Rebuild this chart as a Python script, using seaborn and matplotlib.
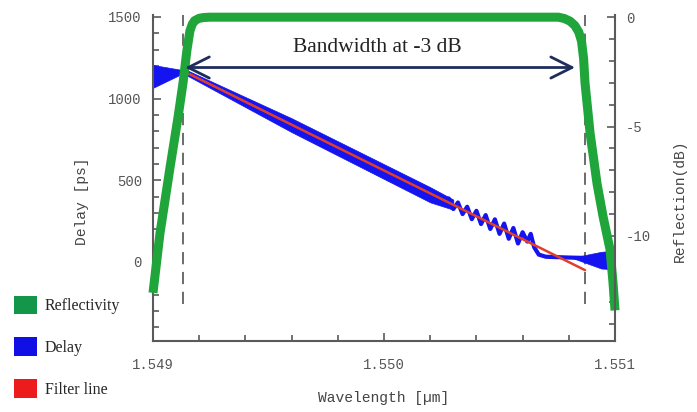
import matplotlib
matplotlib.use("Agg")
import matplotlib.pyplot as plt
import seaborn as sns
import numpy as np
import pandas as pd
from matplotlib.patches import Patch
from matplotlib.ticker import MultipleLocator

# ---------------- data ----------------
# Reflectivity (dB) vs wavelength (um)
refl_wl = [1.54900, 1.54903, 1.549074, 1.549108, 1.54913, 1.549147, 1.54916, 1.54917,
           1.54918, 1.54920, 1.54922, 1.549245, 1.5500, 1.550755, 1.55078,
           1.550805, 1.550826, 1.550843, 1.550855, 1.550864, 1.55087,
           1.550892, 1.550922, 1.550948, 1.550978, 1.550991, 1.55100]
refl_db = [-12.6, -9.9, -6.85, -4.6, -3.0, -1.5, -0.62, -0.32,
           -0.16, -0.05, -0.015, 0.0, 0.0, 0.0, -0.06,
           -0.18, -0.38, -0.68, -1.1, -1.9, -3.0,
           -5.3, -7.6, -9.1, -10.6, -12.1, -13.4]

# Delay (ps): noisy wedge at the left edge
wedge_wl = [1.54900, 1.54914]
wedge_hi = [1206, 1172]
wedge_lo = [1066, 1162]

# Delay (ps): dense ripple band following the linear slope
band_wl = [1.54913, 1.54960, 1.55020, 1.55030]
band_hi = [1185, 880, 458, 382]
band_lo = [1155, 795, 365, 320]

# Delay (ps): resolved ripples near the long-wavelength edge
rip_wl = [1.55028, 1.55030, 1.55032, 1.55034, 1.55036, 1.55038, 1.55040, 1.55042,
          1.55044, 1.55046, 1.55048, 1.55050, 1.55052, 1.55054, 1.55056, 1.55058,
          1.55060, 1.55062, 1.550635, 1.55065, 1.55067, 1.55070, 1.55080, 1.55086]
rip_ps = [389, 324, 364, 293, 338, 262, 313, 232,
          287, 202, 261, 172, 235, 142, 208, 113,
          182, 125, 172, 90, 45, 32, 27, 25]

# Delay (ps): noisy flare at the right edge
flare_wl = [1.55082, 1.55094, 1.55100]
flare_hi = [28, 62, 70]
flare_lo = [22, -40, -45]

# Linear filter line (ps)
fit_wl = [1.54913, 1.55087]
fit_ps = [1170, -50]

# -3 dB band edges (um)
edge_wl = [1.54913, 1.55087]

# ticks
x_ticks = [1.549, 1.550, 1.551]
x_ticklabels = ["1.549", "1.550", "1.551"]
y_ticks = [0, 500, 1000, 1500]
y_ticklabels = ["0", "500", "1000", "1500"]
r_ticks = [0, -5, -10]
r_ticklabels = ["0", "-5", "-10"]

legend_labels = ["Reflectivity", "Delay", "Filter line"]

# ---------------- styling ----------------
sns.set_style("white")
plt.rcParams["font.family"] = ["Liberation Mono", "DejaVu Sans Mono"]

GREEN = "#1fa53a"
BLUE = "#1414f0"
RED = "#e0402a"
GRAY = "#5a5a5a"
NAVY = "#1f2d5c"

fig = plt.figure(figsize=(6.97, 4.12), dpi=100)
ax = fig.add_axes([0.2195, 0.1723, 0.6629, 0.7913])
ax2 = ax.twinx()

# ---------------- delay (left axis) ----------------
ax.fill_between(wedge_wl, wedge_lo, wedge_hi, color=BLUE, lw=0.5, zorder=2)
ax.fill_between(band_wl, band_lo, band_hi, color=BLUE, lw=0.5, zorder=2)
ax.fill_between(flare_wl, flare_lo, flare_hi, color=BLUE, lw=0.5, zorder=2)
sns.lineplot(x=rip_wl, y=rip_ps, ax=ax, color=BLUE, linewidth=3.0,
             estimator=None, sort=False, legend=False, zorder=3)
sns.lineplot(x=fit_wl, y=fit_ps, ax=ax, color=RED, linewidth=1.8,
             estimator=None, sort=False, legend=False, zorder=4)

# dashed band edges
ax.vlines(edge_wl, -255, 1512, colors="#444444", linestyles=(0, (8, 5)),
          linewidth=1.1, zorder=1)

ax.set_xlim(1.549, 1.551)
ax.set_ylim(-484, 1512)

# ---------------- reflectivity (right axis) ----------------
sns.lineplot(x=refl_wl, y=refl_db, ax=ax2, color=GREEN, linewidth=6.5,
             estimator=None, sort=False, legend=False)
for ln in ax2.lines:
    ln.set_clip_on(False)
    ln.set_solid_capstyle("butt")
    ln.set_solid_joinstyle("round")
ax2.set_ylim(-14.8, 0.1)

# annotation arrow + text
ax2.annotate("", xy=(1.549139, -2.3), xytext=(1.550827, -2.3),
             arrowprops=dict(arrowstyle="<->", color=NAVY, lw=2.0,
                             mutation_scale=38, shrinkA=0, shrinkB=0))
ax2.text(1.54997, -1.40, "Bandwidth at -3 dB", ha="center", va="center",
         fontsize=15.5, family=["Liberation Serif", "DejaVu Serif"], color="#222222")

# ---------------- axes cosmetics ----------------
for a in (ax, ax2):
    a.spines["top"].set_visible(False)
    for s in ["left", "right", "bottom"]:
        a.spines[s].set_color(GRAY)
        a.spines[s].set_linewidth(1.5)
ax.spines["right"].set_visible(False)
ax2.spines["left"].set_visible(False)
ax2.spines["bottom"].set_visible(False)

ax.set_xticks(x_ticks)
ax.set_xticklabels(x_ticklabels)
ax.set_yticks(y_ticks)
ax.set_yticklabels(y_ticklabels)
ax.xaxis.set_minor_locator(MultipleLocator(0.0002))
ax.yaxis.set_minor_locator(MultipleLocator(100))
ax2.set_yticks(r_ticks)
ax2.set_yticklabels(r_ticklabels)
ax2.yaxis.set_minor_locator(MultipleLocator(1))

ax.tick_params(axis="both", which="both", direction="in", color=GRAY,
               labelcolor="#555555", labelsize=10, width=1.2)
ax.tick_params(which="major", length=6, pad=8)
ax.tick_params(which="minor", length=4)
ax.tick_params(axis="x", which="both", bottom=True, pad=12)
ax.tick_params(axis="y", which="both", left=True)
ax2.tick_params(axis="y", which="both", direction="in", color=GRAY,
                labelcolor="#555555", labelsize=10, width=1.2, right=True)
ax2.tick_params(which="major", length=6, pad=8)
ax2.tick_params(which="minor", length=4)

ax.set_xlabel("Wavelength [µm]", fontsize=10.5, color="#444444", labelpad=14)
ax.set_ylabel("Delay [ps]", fontsize=10.5, color="#444444")
ax.yaxis.set_label_coords(-0.138, 0.43)
ax2.set_ylabel("Reflection(dB)", fontsize=10.5, color="#444444")
ax2.yaxis.set_label_coords(1.125, 0.43)

# ---------------- legend ----------------
handles = [Patch(facecolor="#13964a", edgecolor="none"),
           Patch(facecolor="#1010e6", edgecolor="none"),
           Patch(facecolor="#ec1c1c", edgecolor="none")]
fig.legend(handles, legend_labels, loc="lower left", bbox_to_anchor=(0.0, 0.0),
           frameon=False, handlelength=1.4, handleheight=1.4, handletextpad=0.5,
           labelspacing=1.45, prop={"family": ["Liberation Serif", "DejaVu Serif"], "size": 11.5})

fig.savefig("out.png", dpi=100)
